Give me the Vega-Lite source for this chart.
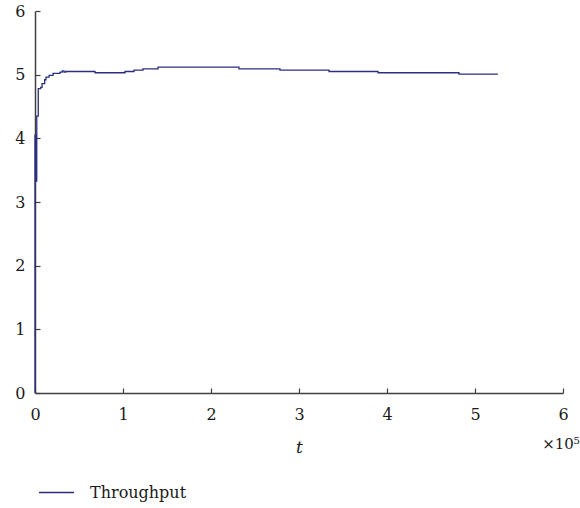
{
  "$schema": "https://vega.github.io/schema/vega-lite/v6.json",
  "width": 528,
  "height": 382,
  "autosize": {"type": "none"},
  "padding": {"left": 35, "top": 11, "right": 17, "bottom": 115},
  "background": "white",
  "config": {
    "view": {"stroke": null},
    "font": "DejaVu Serif",
    "axis": {
      "grid": false,
      "labelFlush": false,
      "domainColor": "#404040",
      "domainWidth": 1.5,
      "tickColor": "#404040",
      "tickWidth": 1.2,
      "tickSize": -5,
      "labelFont": "DejaVu Serif",
      "labelFontSize": 16,
      "labelColor": "#1a1a1a",
      "titleFont": "DejaVu Serif",
      "titleFontSize": 17,
      "titleColor": "#1a1a1a",
      "titleFontWeight": "normal"
    }
  },
  "layer": [
    {
      "data": {
        "values": [
          {"t": 0, "v": 0, "series": "Throughput"},
          {"t": 0, "v": 4.05, "series": "Throughput"},
          {"t": 500, "v": 3.33, "series": "Throughput"},
          {"t": 2000, "v": 4.35, "series": "Throughput"},
          {"t": 3700, "v": 4.78, "series": "Throughput"},
          {"t": 6500, "v": 4.8, "series": "Throughput"},
          {"t": 8000, "v": 4.86, "series": "Throughput"},
          {"t": 11000, "v": 4.92, "series": "Throughput"},
          {"t": 12500, "v": 4.96, "series": "Throughput"},
          {"t": 16000, "v": 4.99, "series": "Throughput"},
          {"t": 20500, "v": 5.02, "series": "Throughput"},
          {"t": 28400, "v": 5.04, "series": "Throughput"},
          {"t": 31000, "v": 5.06, "series": "Throughput"},
          {"t": 33000, "v": 5.04, "series": "Throughput"},
          {"t": 35000, "v": 5.05, "series": "Throughput"},
          {"t": 68200, "v": 5.03, "series": "Throughput"},
          {"t": 102300, "v": 5.05, "series": "Throughput"},
          {"t": 112500, "v": 5.07, "series": "Throughput"},
          {"t": 122700, "v": 5.09, "series": "Throughput"},
          {"t": 139800, "v": 5.12, "series": "Throughput"},
          {"t": 231800, "v": 5.09, "series": "Throughput"},
          {"t": 278400, "v": 5.07, "series": "Throughput"},
          {"t": 334100, "v": 5.05, "series": "Throughput"},
          {"t": 389800, "v": 5.03, "series": "Throughput"},
          {"t": 481800, "v": 5.01, "series": "Throughput"},
          {"t": 526000, "v": 5.01, "series": "Throughput"}
        ]
      },
      "mark": {"type": "line", "interpolate": "step-after", "strokeWidth": 1.3},
      "encoding": {
        "x": {
          "field": "t",
          "type": "quantitative",
          "scale": {"domain": [0, 600000], "nice": false},
          "axis": {
            "values": [0, 100000, 200000, 300000, 400000, 500000, 600000],
            "labelExpr": "format(datum.value / 100000, 'd')",
            "labelPadding": 18,
            "title": "t",
            "titleFontStyle": "italic",
            "titleBaseline": "alphabetic",
            "titleY": 59
          }
        },
        "y": {
          "field": "v",
          "type": "quantitative",
          "scale": {"domain": [0, 6], "nice": false},
          "axis": {
            "values": [0, 1, 2, 3, 4, 5, 6],
            "format": "d",
            "labelPadding": 15,
            "title": null
          }
        },
        "color": {
          "field": "series",
          "type": "nominal",
          "scale": {"range": ["#2b2f7e"]},
          "legend": {
            "title": null,
            "orient": "none",
            "legendX": 3,
            "legendY": 463,
            "symbolType": "stroke",
            "symbolSize": 1225,
            "symbolStrokeWidth": 1.3,
            "labelFont": "DejaVu Serif",
            "labelFontSize": 16,
            "labelColor": "#1a1a1a",
            "labelOffset": 15
          }
        }
      }
    },
    {
      "data": {"values": [{"label": "×10⁵"}]},
      "mark": {"type": "text", "fontSize": 15, "font": "DejaVu Serif", "color": "#1a1a1a", "align": "center", "baseline": "middle", "dy": 51, "dx": -2},
      "encoding": {
        "x": {"datum": 600000},
        "y": {"datum": 0},
        "text": {"field": "label"}
      }
    }
  ]
}
